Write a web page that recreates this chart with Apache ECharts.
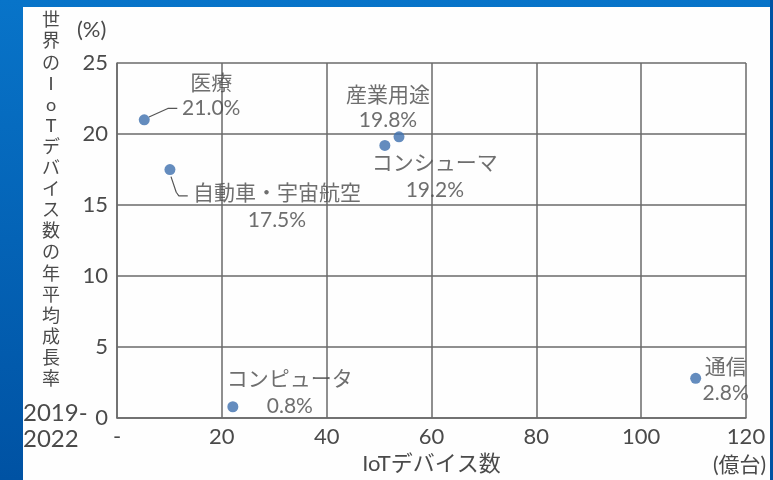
<!DOCTYPE html>
<html>
<head>
<meta charset="utf-8">
<script src="https://cdn.jsdelivr.net/npm/echarts@6/dist/echarts.min.js"></script>
<style>html,body{margin:0;padding:0;background:#fff}#c{width:773px;height:480px}</style>
</head>
<body>
<div id="c"></div>
<script>
// ---- data ----
const categories = ['医療', '自動車・宇宙航空', 'コンシューマ', '産業用途', 'コンピュータ', '通信'];
const deviceCounts = [5.2, 10.1, 51.1, 53.8, 22.1, 110.4];   // 億台
const growthRates = [21.0, 17.5, 19.2, 19.8, 0.8, 2.8];       // %
const xTicks = [0, 20, 40, 60, 80, 100, 120];
const yTicks = [0, 5, 10, 15, 20, 25];
const yTitle = '世界のIoTデバイス数の年平均成長率';
const yPeriod = '2019-\n2022';
const xTitle = 'IoTデバイス数';
const xUnit = '(億台)';
const yUnit = '(%)';

// ---- layout (label offsets in px, leader lines in data coordinates) ----
const labelOffsets = [[67, -24], [107, 37], [50, 31], [-11, -29], [57, -14], [30, 2]];
const labelLineHeights = [25, 27, 27, 25, 27, 26];
const leaders = [
  [[6.1, 21.2], [9.7, 21.8], [11.5, 21.8]],
  [[10.3, 17.0], [11.3, 15.9], [11.8, 15.65], [13.5, 15.65]]
];

const FONT = 'Lato, "Noto Sans CJK JP", sans-serif';
const TXT = '#4a4a4a';
const GRIDC = '#6a6a6a';

const scatterData = categories.map((n, i) => ({
  name: n,
  value: [deviceCounts[i], growthRates[i]],
  label: {
    offset: labelOffsets[i],
    lineHeight: labelLineHeights[i]
  }
}));

const leaderSeries = leaders.map(pts => ({
  type: 'line',
  data: pts,
  symbol: 'none',
  silent: true,
  z: 1,
  lineStyle: { color: '#555', width: 1.2 },
  animation: false
}));

const chart = echarts.init(document.getElementById('c'), null, { renderer: 'canvas' });
chart.setOption({
  animation: false,
  backgroundColor: {
    type: 'linear', x: 0, y: 0, x2: 0, y2: 1,
    colorStops: [{ offset: 0, color: '#0874c9' }, { offset: 1, color: '#0052a3' }]
  },
  textStyle: { fontFamily: FONT },
  graphic: [
    { type: 'rect', z: -10, shape: { x: 23, y: 7, width: 747, height: 480 }, style: { fill: '#fefefe' } },
    { type: 'text', z: 50, x: 51, y: 10, style: {
        text: yTitle.split('').join('\n'),
        fill: TXT, font: '18px ' + FONT, lineHeight: 21.1, textAlign: 'center' } },
    { type: 'text', z: 50, x: 23, y: 400, style: { text: yPeriod, fill: TXT, font: '24px ' + FONT, lineHeight: 26.5 } },
    { type: 'text', z: 50, x: 77, y: 19, style: { text: yUnit, fill: TXT, font: '22px ' + FONT } },
    { type: 'text', z: 50, x: 713, y: 455, style: { text: xUnit, fill: TXT, font: '21px ' + FONT } },
    { type: 'rect', z: 100, shape: { x: 770, y: 0, width: 10, height: 480 }, style: { fill: '#0052a3' } }
  ],
  grid: { left: 117, right: 27, top: 63, bottom: 56 },
  xAxis: {
    type: 'value', min: xTicks[0], max: xTicks[xTicks.length - 1], interval: 20,
    name: xTitle, nameLocation: 'middle', nameGap: 31,
    nameTextStyle: { color: TXT, fontSize: 22, fontFamily: FONT },
    axisLine: { show: true, lineStyle: { color: GRIDC, width: 1.5 } },
    axisTick: { show: false },
    axisLabel: { color: TXT, fontSize: 22, margin: 8, fontFamily: FONT,
      formatter: v => v === 0 ? '-' : String(v) },
    splitLine: { show: true, lineStyle: { color: GRIDC, width: 1.5 } }
  },
  yAxis: {
    type: 'value', min: yTicks[0], max: yTicks[yTicks.length - 1], interval: 5,
    axisLine: { show: true, lineStyle: { color: GRIDC, width: 1.5 } },
    axisTick: { show: false },
    axisLabel: { color: TXT, fontSize: 22, margin: 9, fontFamily: FONT },
    splitLine: { show: true, lineStyle: { color: GRIDC, width: 1.5 } }
  },
  series: [
    ...leaderSeries,
    {
      type: 'scatter',
      data: scatterData,
      symbolSize: 11,
      z: 3,
      itemStyle: { color: '#3d6fae' },
      label: {
        show: true, position: 'inside', align: 'center', verticalAlign: 'middle',
        color: TXT, fontSize: 21, fontFamily: FONT,
        formatter: p => p.name + '\n' + p.value[1].toFixed(1) + '%'
      }
    }
  ]
});
</script>
</body>
</html>
